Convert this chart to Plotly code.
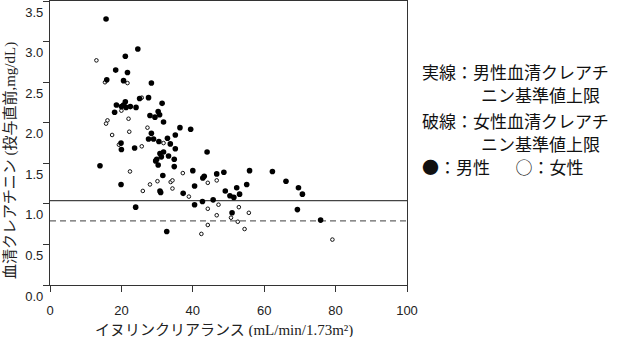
import plotly.graph_objects as go

# Male (filled) points: inulin clearance (mL/min/1.73m2), serum creatinine (mg/dL)
male_x = [15.7, 24.6, 21.1, 18.4, 21.7, 15.9, 20.6, 28.4, 25.1, 27.6, 31.4, 18.6, 20.0, 20.6,
          21.1, 21.3, 22.5, 24.1, 18.1, 30.3, 30.7, 28.0, 29.4, 31.8, 36.4, 39.4, 28.4, 35.1,
          27.6, 29.0, 30.5, 32.9, 33.7, 19.9, 23.7, 20.0, 35.1, 30.8, 31.8, 31.2, 33.2, 44.0,
          29.6, 29.9, 30.3, 34.8, 34.8, 14.0, 19.9, 31.6, 30.8, 31.0, 24.0, 32.7, 37.3, 40.0,
          40.5, 40.5, 42.7, 42.8, 43.2, 45.7, 46.7, 48.7, 49.1, 50.4, 51.5, 52.3, 53.1, 55.1,
          55.9, 51.0, 62.3, 66.1, 69.6, 70.7, 69.3, 75.8]
male_y = [3.28, 2.91, 2.82, 2.65, 2.62, 2.53, 2.52, 2.49, 2.30, 2.31, 2.24, 2.22, 2.20, 2.22,
          2.26, 2.19, 2.20, 2.19, 2.13, 2.14, 2.10, 2.09, 2.07, 2.01, 1.94, 1.92, 1.87, 1.85,
          1.80, 1.80, 1.77, 1.81, 1.74, 1.75, 1.69, 1.67, 1.68, 1.62, 1.64, 1.58, 1.59, 1.64,
          1.53, 1.55, 1.48, 1.55, 1.46, 1.47, 1.24, 1.35, 1.16, 1.14, 0.96, 0.66, 1.13, 1.41,
          1.22, 0.99, 1.03, 1.32, 1.34, 1.05, 1.37, 1.39, 1.16, 1.10, 1.08, 1.20, 1.12, 1.24,
          1.41, 0.89, 1.40, 1.28, 1.20, 1.12, 0.93, 0.80]

# Female (open) points
female_x = [13.0, 15.4, 21.7, 25.7, 20.0, 22.0, 16.1, 15.7, 27.3, 22.2, 17.4, 31.8, 19.3, 25.7,
            22.4, 28.0, 30.1, 33.8, 34.3, 34.3, 26.0, 37.2, 38.9, 44.2, 46.7, 44.2, 47.2, 46.7,
            44.2, 42.4, 50.7, 52.9, 52.6, 54.5, 55.7, 79.1]
female_y = [2.77, 2.50, 2.49, 2.31, 2.15, 2.05, 2.03, 1.99, 1.94, 1.89, 1.85, 1.75, 1.73, 1.71,
            1.40, 1.24, 1.28, 1.27, 1.29, 1.19, 1.16, 1.38, 1.09, 1.26, 1.29, 0.94, 0.99, 0.86,
            0.74, 0.63, 0.83, 0.96, 0.78, 0.69, 0.89, 0.56]

# Reference upper limits
male_limit = 1.04
female_limit = 0.79

x_ticks = [0, 20, 40, 60, 80, 100]
y_ticks = [0.0, 0.5, 1.0, 1.5, 2.0, 2.5, 3.0, 3.5]
y_tick_text = ["0.0", "0.5", "1.0", "1.5", "2.0", "2.5", "3.0", "3.5"]

x_title = "イヌリンクリアランス (mL/min/1.73m²)"
y_title = "血清クレアチニン (投与直前,mg/dL)"
legend_lines = ["実線：男性血清クレアチ", "ニン基準値上限", "破線：女性血清クレアチ", "ニン基準値上限",
                "●：男性\u3000\u2002○：女性"]

fig = go.Figure()
fig.add_trace(go.Scatter(x=[0, 100], y=[male_limit, male_limit], mode="lines",
                         line=dict(color="#444", width=1.3), hoverinfo="skip", showlegend=False))
fig.add_trace(go.Scatter(x=[0, 100], y=[female_limit, female_limit], mode="lines",
                         line=dict(color="#666", width=1.3, dash="6px,4px"), hoverinfo="skip",
                         showlegend=False))
fig.add_trace(go.Scatter(x=female_x, y=female_y, mode="markers",
                         marker=dict(size=3.6, color="white", line=dict(color="#111", width=1)),
                         showlegend=False))
fig.add_trace(go.Scatter(x=male_x, y=male_y, mode="markers",
                         marker=dict(size=5.6, color="#000", line=dict(width=0)),
                         showlegend=False))

tickfont = dict(family="Liberation Sans, Arial, sans-serif", size=13, color="#222")
serif = "Liberation Serif, Noto Sans CJK JP, serif"
sans_jp = "Noto Sans CJK JP, sans-serif"

fig.update_layout(
    width=618, height=337,
    margin=dict(l=50, r=211, t=1, b=52),
    paper_bgcolor="white", plot_bgcolor="white",
    xaxis=dict(range=[0, 100], tickvals=x_ticks, ticks="outside", ticklen=6, tickwidth=1.2,
               tickcolor="#333", showline=True, linecolor="#333", linewidth=1.3, mirror=True,
               showgrid=False, zeroline=False, tickfont=tickfont, ticklabelstandoff=7,
               fixedrange=True),
    yaxis=dict(range=[0, 3.502], tickvals=y_ticks, ticktext=y_tick_text, ticks="outside",
               ticklen=6, tickwidth=1.2, tickcolor="#333", showline=True, linecolor="#333",
               linewidth=1.3, mirror=True, showgrid=False, zeroline=False, tickfont=tickfont,
               ticklabelshift=11, ticklabelstandoff=-3, fixedrange=True),
)

# axis titles as annotations
fig.add_annotation(text=x_title, xref="paper", yref="paper", x=(224 - 50) / 357,
                   y=-(330 - 285) / 284, xanchor="center", yanchor="middle", showarrow=False,
                   font=dict(family=serif, size=15, color="#222"))
fig.add_annotation(text=y_title, xref="paper", yref="paper", x=(10 - 50) / 357,
                   y=(285 - 161) / 284, xanchor="center", yanchor="middle", textangle=-90,
                   showarrow=False, font=dict(family=serif, size=15, color="#222"))

legend_pos = [(421, 71), (480, 94.5), (421, 120), (480, 143), (421, 166)]
for txt, (px, py) in zip(legend_lines, legend_pos):
    fig.add_annotation(text=txt, xref="paper", yref="paper", x=(px - 50) / 357,
                       y=(285 - py) / 284, xanchor="left", yanchor="middle", showarrow=False,
                       borderpad=0, font=dict(family=sans_jp, size=17, color="#111"))

fig.write_html("out.html")
